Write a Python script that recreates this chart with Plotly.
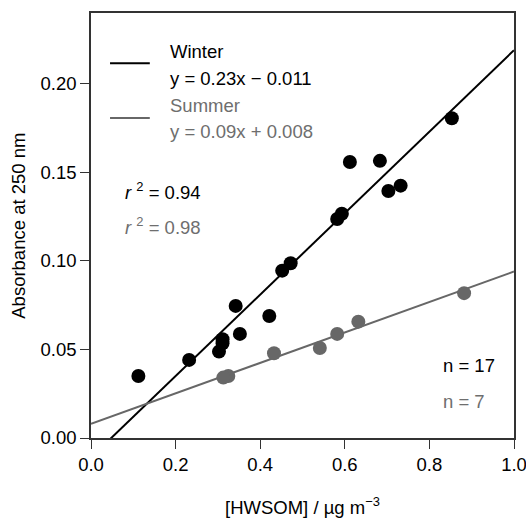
import numpy as np
import plotly.graph_objects as go

# Data
winter_x = [0.853, 0.612, 0.683, 0.703, 0.732, 0.593, 0.582, 0.472, 0.452, 0.342,
            0.4215, 0.352, 0.311, 0.311, 0.3026, 0.232, 0.112]
winter_y = [0.1806, 0.1559, 0.1565, 0.1395, 0.1425, 0.1266, 0.1237, 0.0987, 0.0945, 0.0746,
            0.0689, 0.0588, 0.0558, 0.0535, 0.0488, 0.0441, 0.0350]
summer_x = [0.882, 0.632, 0.582, 0.541, 0.4326, 0.3246, 0.3128]
summer_y = [0.0818, 0.0657, 0.0588, 0.0508, 0.0479, 0.0350, 0.0341]

winter_fit = [0.230, -0.011]   # slope, intercept
summer_fit = [0.086, 0.008]

x_ticks = [0.0, 0.2, 0.4, 0.6, 0.8, 1.0]
y_ticks = [0.00, 0.05, 0.10, 0.15, 0.20]

BLACK = "#000000"
GRAY = "#676767"
TGRAY = "#6e6e6e"
FONT = "Liberation Sans, Arial, Helvetica, sans-serif"
FS = 18.5

fig = go.Figure()
xl = np.array([0.0, 1.0])
fig.add_trace(go.Scatter(x=xl, y=winter_fit[0] * xl + winter_fit[1], mode="lines",
                         line=dict(color=BLACK, width=2), showlegend=False, hoverinfo="skip"))
fig.add_trace(go.Scatter(x=xl, y=summer_fit[0] * xl + summer_fit[1], mode="lines",
                         line=dict(color=GRAY, width=2), showlegend=False, hoverinfo="skip"))
fig.add_trace(go.Scatter(x=winter_x, y=winter_y, mode="markers",
                         marker=dict(color=BLACK, size=14, line=dict(width=0)), showlegend=False))
fig.add_trace(go.Scatter(x=summer_x, y=summer_y, mode="markers",
                         marker=dict(color=GRAY, size=14, line=dict(width=0)), showlegend=False))

axis_common = dict(showline=True, mirror=True, linecolor="#333333", linewidth=1.5,
                   ticks="outside", ticklen=9, tickwidth=1.2, tickcolor="#333333",
                   showgrid=False, zeroline=False, automargin=False,
                   ticklabeloverflow="allow",
                   tickfont=dict(family=FONT, size=FS, color="#000000"))

fig.update_xaxes(range=[0, 1], tickvals=x_ticks, ticktext=[f"{v:.1f}" for v in x_ticks],
                 **axis_common)
fig.update_yaxes(range=[0, 0.24], tickvals=y_ticks, ticktext=[f"{v:.2f}" for v in y_ticks],
                 **axis_common)

# axis titles
fig.add_annotation(text="[HWSOM] / µg m<sup>−3</sup>", x=0.5, y=-0.16, xref="paper", yref="paper",
                   xanchor="center", yanchor="middle", showarrow=False,
                   font=dict(family=FONT, size=FS, color=BLACK))
fig.add_annotation(text="Absorbance at 250 nm", x=-0.172, y=0.5, xref="paper", yref="paper",
                   xanchor="center", yanchor="middle", showarrow=False, textangle=-90,
                   font=dict(family=FONT, size=FS, color=BLACK))

anns = [
    ("Winter", 0.182, 0.909, BLACK),
    ("y = 0.23x − 0.011", 0.182, 0.847, BLACK),
    ("Summer", 0.182, 0.783, TGRAY),
    ("y = 0.09x + 0.008", 0.182, 0.722, TGRAY),
    ("<i>r</i> <sup>2</sup> = 0.94", 0.0757, 0.5815, BLACK),
    ("<i>r</i> <sup>2</sup> = 0.98", 0.0757, 0.499, TGRAY),
    ("n = 17", 0.827, 0.170, BLACK),
    ("n = 7", 0.827, 0.087, TGRAY),
]
for text, x, y, c in anns:
    fig.add_annotation(text=text, x=x, y=y, xref="paper", yref="paper", xanchor="left",
                       yanchor="middle", showarrow=False, font=dict(family=FONT, size=FS, color=c))

fig.add_shape(type="line", xref="paper", yref="paper", x0=0.045, x1=0.139, y0=0.882, y1=0.882,
              line=dict(color=BLACK, width=2))
fig.add_shape(type="line", xref="paper", yref="paper", x0=0.045, x1=0.139, y0=0.753, y1=0.753,
              line=dict(color=GRAY, width=2))

fig.update_layout(width=526, height=523, margin=dict(l=91, r=12, t=13, b=85, autoexpand=False),
                  paper_bgcolor="white", plot_bgcolor="white",
                  font=dict(family=FONT, size=FS, color="#000"))

fig.write_html("out.html", config={"displayModeBar": False},
               post_script="document.body.style.margin='0';document.body.style.overflow='hidden';")
